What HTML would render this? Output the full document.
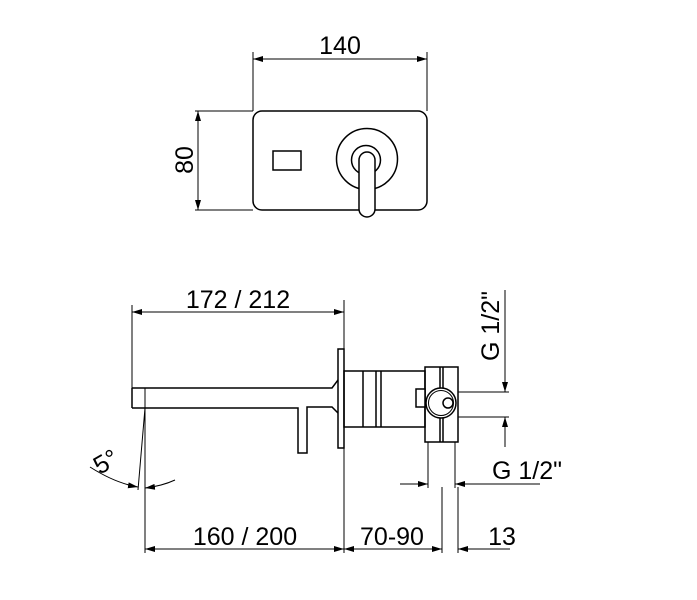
<!DOCTYPE html>
<html><head><style>body{margin:0;background:#fff}svg{display:block}</style></head><body>
<svg width="697" height="600" xmlns="http://www.w3.org/2000/svg" font-family="Liberation Sans, sans-serif" fill="none" stroke="#000">
<defs>
<marker id="a" viewBox="0 0 10 6" refX="10" refY="3" markerWidth="10" markerHeight="6" orient="auto-start-reverse" markerUnits="userSpaceOnUse"><path d="M0,0L10,3L0,6z" fill="#000" stroke="none"/></marker>
</defs>
<g stroke-width="1">
<rect x="253" y="111" width="174" height="99" rx="9" stroke-width="1.5"/>
<rect x="273" y="151" width="28" height="19" stroke-width="1.5"/>
<circle cx="367" cy="159" r="30.5" stroke-width="1.5"/>
<circle cx="366" cy="160" r="14.5" stroke-width="1.5"/>
<rect x="359" y="152" width="16" height="65" rx="8" fill="#fff" stroke-width="1.5"/>
<line x1="253" y1="111" x2="253" y2="52"/><line x1="427" y1="111" x2="427" y2="52"/>
<line x1="253" y1="59" x2="427" y2="59" marker-start="url(#a)" marker-end="url(#a)"/>
<line x1="195" y1="111" x2="253" y2="111"/><line x1="195" y1="210" x2="253" y2="210"/>
<line x1="198" y1="111" x2="198" y2="210" marker-start="url(#a)" marker-end="url(#a)"/>
</g>
<g fill="#000" stroke="none" font-size="25">
<text x="340" y="54" text-anchor="middle">140</text>
<text transform="translate(193,160) rotate(-90)" text-anchor="middle">80</text>
<text x="238" y="308" text-anchor="middle">172 / 212</text>
<text x="245" y="545" text-anchor="middle">160 / 200</text>
<text x="392" y="545" text-anchor="middle">70-90</text>
<text x="502" y="545" text-anchor="middle">13</text>
<text x="527" y="479" text-anchor="middle">G 1/2"</text>
<text transform="translate(499,326) rotate(-90)" text-anchor="middle">G 1/2"</text>
<text transform="translate(110,469) rotate(-30)" text-anchor="middle">5°</text>
</g>
<g stroke-width="1">
<line x1="132" y1="312" x2="344" y2="312" marker-start="url(#a)" marker-end="url(#a)"/>
<line x1="132" y1="305" x2="132" y2="388"/>
<line x1="344" y1="300" x2="344" y2="553"/>
<path d="M132,388H332L338,380M132,408H298V453H307V407H332L338,413M132,388V408" stroke-width="1.5"/>
<line x1="145" y1="388" x2="145" y2="553"/>
<line x1="145" y1="408" x2="138" y2="490"/>
<rect x="338" y="349" width="6" height="99" stroke-width="1.5"/>
<rect x="344" y="371" width="81" height="56" stroke-width="1.5"/>
<line x1="363" y1="371" x2="363" y2="427" stroke-width="1.5"/>
<line x1="376" y1="371" x2="376" y2="427" stroke-width="1.5"/>
<line x1="381" y1="371" x2="381" y2="427" stroke-width="1.5"/>
<rect x="425" y="367" width="33" height="75" stroke-width="1.5"/>
<line x1="440" y1="367" x2="440" y2="442" stroke-width="1.5"/>
<line x1="443" y1="367" x2="443" y2="442" stroke-width="1.5"/>
<rect x="416" y="389" width="9" height="18" fill="#fff" stroke-width="1.5"/>
<circle cx="441" cy="403" r="15" fill="#fff" stroke-width="1.5"/>
<circle cx="441" cy="403" r="12.5"/>
<circle cx="448" cy="403" r="5" stroke-width="1.5"/>
<line x1="458" y1="392" x2="509" y2="392"/><line x1="458" y1="417" x2="509" y2="417"/>
<line x1="505" y1="290" x2="505" y2="392" marker-end="url(#a)"/>
<line x1="505" y1="447" x2="505" y2="417" marker-end="url(#a)"/>
<line x1="428" y1="442" x2="428" y2="488"/><line x1="455" y1="442" x2="455" y2="488"/>
<line x1="400" y1="484" x2="428" y2="484" marker-end="url(#a)"/>
<line x1="540" y1="484" x2="455" y2="484" marker-end="url(#a)"/>
<line x1="442" y1="487" x2="442" y2="553"/><line x1="458" y1="487" x2="458" y2="553"/>
<line x1="145" y1="549" x2="344" y2="549" marker-start="url(#a)" marker-end="url(#a)"/>
<line x1="344" y1="549" x2="442" y2="549" marker-start="url(#a)" marker-end="url(#a)"/>
<line x1="510" y1="549" x2="458" y2="549" marker-end="url(#a)"/>
<path d="M90,467 Q115,483 138,487" marker-end="url(#a)"/>
<path d="M175,480 Q162,486 145,488" marker-end="url(#a)"/>
</g>
</svg>
</body></html>
